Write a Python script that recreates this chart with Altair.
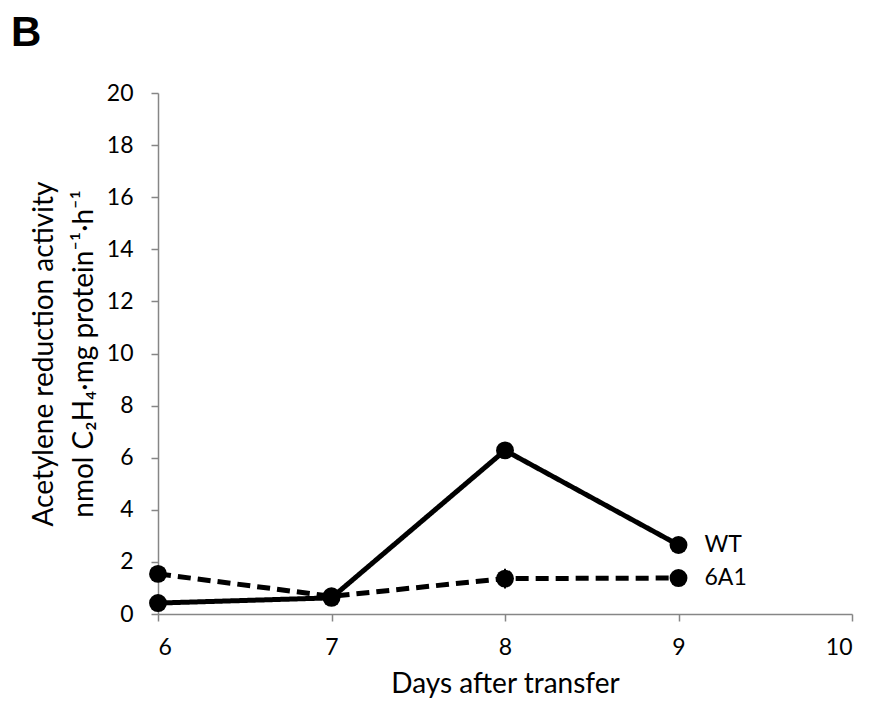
import altair as alt
import pandas as pd

days = [6, 7, 8, 9]
wt_vals = [0.42, 0.62, 6.28, 2.65]
wt_err = [0.0, 0.0, 0.0, 0.0]
a61_vals = [1.54, 0.68, 1.36, 1.38]
a61_err = [0.0, 0.0, 0.38, 0.0]
series_names = ["WT", "6A1"]
x_ticks = [6, 7, 8, 9, 10]
y_ticks = [0, 2, 4, 6, 8, 10, 12, 14, 16, 18, 20]

rows = []
for name, vals, errs in [("WT", wt_vals, wt_err), ("6A1", a61_vals, a61_err)]:
    for d, v, e in zip(days, vals, errs):
        rows.append({"day": d, "value": v, "lo": v - e, "hi": v + e, "series": name,
                     "label": name if d == days[-1] else ""})
df = pd.DataFrame(rows)

FONT = "Lato"
AX = "#868686"

x = alt.X("day:Q", scale=alt.Scale(domain=[6, 10], nice=False, zero=False),
          axis=alt.Axis(values=x_ticks, title="Days after transfer", format="d"))
y = alt.Y("value:Q", scale=alt.Scale(domain=[0, 20], nice=False),
          axis=alt.Axis(values=y_ticks,
                        title=["Acetylene reduction activity",
                               "nmol C\u2082H\u2084\u00b7mg protein\u207b\u00b9\u00b7h\u207b\u00b9"]))

dash = alt.StrokeDash("series:N", scale=alt.Scale(domain=series_names, range=[[1, 0], [13, 7]]),
                      legend=None)

base = alt.Chart(df)

lines = base.mark_line(color="black", strokeWidth=5).encode(x=x, y=y, strokeDash=dash,
                                                            detail="series:N")
errs = base.mark_rule(color="black", strokeWidth=2).encode(x="day:Q", y="lo:Q", y2="hi:Q")
points = base.mark_point(filled=True, color="black", size=320, opacity=1, shape="circle").encode(
    x="day:Q", y="value:Q")
labels = base.mark_text(align="left", baseline="middle", dx=26, font=FONT, fontSize=23,
                        color="black").encode(x="day:Q", y="value:Q", text="label:N")

chart = alt.layer(lines, errs, points, labels).properties(
    width=694, height=521,
    autosize=alt.AutoSizeParams(type="none"),
    padding={"left": 150, "top": 85, "right": 8, "bottom": 85},
    title=alt.TitleParams(text="B", anchor="start", frame="group", font="Liberation Sans",
                          fontSize=42, fontWeight="bold", color="black", dx=-147, offset=27),
).configure_view(stroke=None).configure_axis(
    grid=False, domainColor=AX, tickColor=AX, domainWidth=1.5, tickWidth=1.5, tickSize=7,
    labelFont=FONT, labelFontSize=23, labelColor="black", titleFont=FONT, titleFontSize=28,
    titleColor="black", titleFontWeight="normal"
).configure_axisX(labelPadding=15, titlePadding=11).configure_axisY(
    labelPadding=18, titlePadding=8, titleLineHeight=40)

chart.save("out.html", embed_options={"renderer": "svg", "actions": False})
